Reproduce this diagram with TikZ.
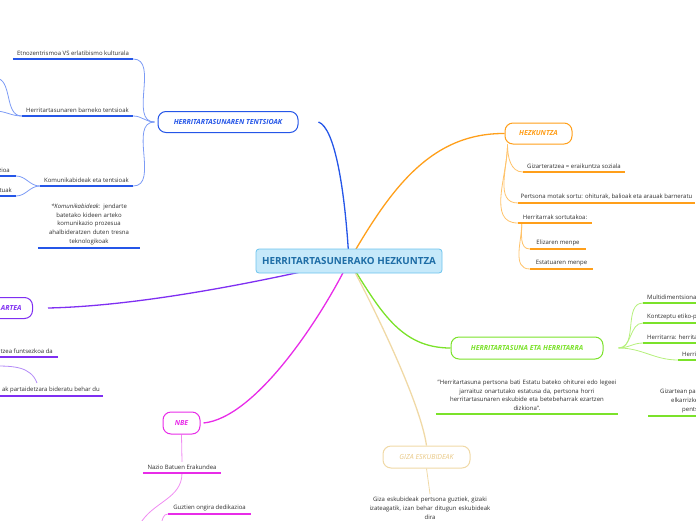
\documentclass[tikz,border=0pt]{standalone}
\usepackage{fontspec}
\setmainfont{Open Sans}
\usetikzlibrary{backgrounds,calc}
\definecolor{cBd}{HTML}{6CC4EE}
\definecolor{cFl}{HTML}{C6E9FA}
\definecolor{cTx}{HTML}{1E6DA6}
\definecolor{bl}{HTML}{2556E8}
\definecolor{blL}{HTML}{7C9BF5}
\definecolor{pu}{HTML}{7F2FF2}
\definecolor{puL}{HTML}{B38AF7}
\definecolor{ma}{HTML}{E82CE8}
\definecolor{maL}{HTML}{F08CF2}
\definecolor{orr}{HTML}{FF9F1A}
\definecolor{orL}{HTML}{FFC36B}
\definecolor{gr}{HTML}{7BE22A}
\definecolor{grL}{HTML}{B6F07C}
\definecolor{be}{HTML}{F0D9A6}
\definecolor{beT}{HTML}{E9C884}
\definecolor{tx}{HTML}{2E2E2E}
\begin{document}
\begin{tikzpicture}[x=1pt,y=-1pt,
  central/.style={draw=cBd, fill=cFl, line width=0.8pt, rounded corners=3pt,
    minimum width=186pt, minimum height=24pt, inner sep=0pt,
    font=\fontsize{9.8}{11}\selectfont\bfseries, text=cTx},
  br/.style={draw=#1, text=#1, fill=white, line width=1pt, rounded corners=8pt,
    minimum height=21pt, inner xsep=0pt, inner ysep=0pt,
    font=\fontsize{7}{8}\selectfont\bfseries\itshape},
  leaf/.style={font=\fontsize{6}{8.7}\selectfont, text=tx, inner xsep=0pt,
    inner ysep=3.1pt, anchor=south},
  ul/.style={draw=#1, line width=1.8pt},
  mainc/.style={draw=#1, line width=1.3pt},
  subc/.style={draw=#1, line width=0.8pt}
]
\useasboundingbox (0,0) rectangle (696,520);
\clip (0,0) rectangle (696,520);
\coordinate (L) at (-5,0);
\coordinate (R) at (701,0);

% central and branch nodes
\node[central] (c) at (349,261) {HERRITARTASUNERAKO HEZKUNTZA};
\node[br=bl, minimum width=140pt] (ten) at (228,122) {HERRITARTASUNAREN TENTSIOAK};
\node[br=pu, anchor=east, text width=60pt, align=right, inner xsep=11pt] (par) at (33,308) {ARTEA};
\node[br=ma, minimum width=37pt, minimum height=22pt] (nbe) at (181.5,423) {NBE};
\node[br=orr, minimum width=67pt] (hez) at (538.5,133.5) {HEZKUNTZA};
\node[br=gr, minimum width=152pt, minimum height=22pt] (her) at (527,348) {HERRITARTASUNA ETA HERRITARRA};
\node[br=be, text=beT, minimum width=87pt, minimum height=22pt,
  font=\fontsize{7}{8}\selectfont\itshape] (giza) at (426.5,457) {GIZA ESKUBIDEAK};

% blue leaves
\node[leaf, minimum width=120pt] (etno) at (73,59) {Etnozentrismoa VS erlatibismo kulturala};
\node[leaf, minimum width=111pt] (hbt) at (77.5,116) {Herritartasunaren barneko tentsioak};
\node[leaf, minimum width=93pt] (kom) at (86.5,186) {Komunikabideak eta tentsioak};
\node[leaf, text width=102pt, align=center] (komn) at (89,248)
  {\textit{*Komunikabideak:} jendarte\\batetako kideen arteko\\komunikazio prozesua\\ahalbideratzen duten tresna\\teknologikoak};
\node[leaf, anchor=south east, inner xsep=6pt] (zio) at (16,176) {zioa};
\node[leaf, anchor=south east, inner xsep=4pt] (tua) at (16,196) {tuak};

% purple leaves
\node[leaf, anchor=south east, inner xsep=5pt] (fun) at (58,357) {tzea funtsezkoa da};
\node[leaf, anchor=south east, inner xsep=3pt] (bid) at (103,396) {ak partaidetzara bideratu behar du};
\coordinate (pA) at (-5,366);
\coordinate (pB) at (37,383);

% magenta leaves
\node[leaf, minimum width=78pt] (naz) at (182,473) {Nazio Batuen Erakundea};
\node[leaf, minimum width=83pt] (guz) at (209.5,514) {Guztien ongira dedikazioa};
\coordinate (mA) at (140,524);
\coordinate (mB) at (161,524);

% orange leaves
\node[leaf, minimum width=102pt] (gzr) at (574,172) {Gizarteratzea = eraikuntza soziala};
\node[leaf, minimum width=177pt] (per) at (606.5,203) {Pertsona motak sortu: ohiturak, balioak eta arauak barneratu};
\node[leaf, minimum width=74pt] (hst) at (555,223) {Herritarrak sortutakoa:};
\node[leaf, minimum width=56pt] (eli) at (558,249) {Elizaren menpe};
\node[leaf, minimum width=63pt] (est) at (561.5,269) {Estatuaren menpe};

% green leaves
\node[leaf, text width=184pt, align=center] (quo) at (527,414)
  {"Herritartasuna pertsona bati Estatu bateko ohiturei edo legeei\\jarraituz onartutako estatusa da, pertsona horri\\herritartasunaren eskubide eta betebeharrak ezartzen\\dizkiona".};
\node[leaf, anchor=south west, inner xsep=4pt] (mul) at (643,303) {Multidimentsiona};
\node[leaf, anchor=south west, inner xsep=4pt] (kon) at (643,323) {Kontzeptu etiko-p};
\node[leaf, anchor=south west, inner xsep=4pt] (hrt) at (643,343) {Herritarra: herrita};
\node[leaf, anchor=south west, inner xsep=4pt] (hri) at (678,360) {Herri};
\node[leaf, anchor=south west, inner xsep=12pt, align=left] (gzp) at (648,416)
  {Gizartean pa\\\hspace*{11pt}elkarrizke\\\hspace*{22pt}pents};
\coordinate (gA) at ([xshift=15pt]her.east);

% beige leaf
\node[leaf, anchor=north, text width=130pt, align=center] (gzt) at (430,494)
  {Giza eskubideak pertsona guztiek, gizaki\\izateagatik, izan behar ditugun eskubideak\\dira};

% underlines
\draw[ul=bl] (etno.south west) -- (etno.south east);
\draw[ul=bl] (hbt.south west) -- (hbt.south east);
\draw[ul=bl] (kom.south west) -- (kom.south east);
\draw[ul=bl] (komn.south west) -- (komn.south east);
\draw[ul=bl] (zio.south east) -- (zio.south east -| L);
\draw[ul=bl] (tua.south east) -- (tua.south east -| L);
\draw[ul=pu] (fun.south east) -- (fun.south east -| L);
\draw[ul=pu] (bid.south east) -- (bid.south east -| L);
\draw[ul=ma] (naz.south west) -- (naz.south east);
\draw[ul=ma] (guz.south west) -- (guz.south east);
\draw[ul=orr] (gzr.south west) -- (gzr.south east);
\draw[ul=orr] (per.south west) -- (per.south east);
\draw[ul=orr] (hst.south west) -- (hst.south east);
\draw[ul=orr] (eli.south west) -- (eli.south east);
\draw[ul=orr] (est.south west) -- (est.south east);
\draw[ul=gr] ([xshift=1pt]quo.south west) -- ([xshift=-1pt]quo.south east);
\draw[ul=gr] (mul.south west) -- (mul.south west -| R);
\draw[ul=gr] (kon.south west) -- (kon.south west -| R);
\draw[ul=gr] (hrt.south west) -- (hrt.south west -| R);
\draw[ul=gr] (hri.south west) -- (hri.south west -| R);
\draw[ul=gr] (gzp.south west) -- (gzp.south west -| R);

\begin{pgfonlayer}{background}
% main connectors
\draw[mainc=bl] (c.center) .. controls (345,190) and (335,128) .. ([xshift=20pt]ten.east);
\draw[mainc=pu] (c.center) .. controls (260,282) and (140,306) .. ([xshift=15pt]par.east);
\draw[mainc=ma] (c.center) .. controls (320,320) and (255,418) .. ([xshift=3pt]nbe.east);
\draw[mainc=orr] (c.center) .. controls (390,190) and (430,133) .. (hez.west);
\draw[mainc=gr] (c.center) .. controls (380,310) and (400,348) .. (her.west);
\draw[mainc=be] (c.center) .. controls (370,300) and (420,400) .. (giza.north);
% blue
\draw[subc=blL] ([xshift=-3pt]ten.west) to[out=180,in=0] (etno.south east);
\draw[subc=blL] ([xshift=-3pt]ten.west) to[out=180,in=0] (hbt.south east);
\draw[subc=blL] ([xshift=-3pt]ten.west) to[out=180,in=0] (kom.south east);
\draw[subc=blL] (hbt.south west) to[out=180,in=0] (-5,78);
\draw[subc=blL] (hbt.south west) to[out=180,in=0] (-5,111);
\draw[subc=blL] (kom.south west) to[out=180,in=0] (zio.south east);
\draw[subc=blL] (kom.south west) to[out=180,in=0] (tua.south east);
% purple
\draw[subc=puL] (pA) to[out=0,in=110] (pB);
% magenta
\draw[subc=maL] (nbe.south) -- (naz.north);
\draw[subc=maL] (naz.south) to[out=-90,in=60] (mA);
\draw[subc=maL] (guz.south west) to[out=180,in=70] (mB);
% orange
\draw[subc=orL] ([xshift=3pt]hez.south west) to[out=-90,in=180] (gzr.south west);
\draw[subc=orL] ([xshift=3pt]hez.south west) to[out=-90,in=180] (per.south west);
\draw[subc=orL] ([xshift=3pt]hez.south west) to[out=-90,in=180] (hst.south west);
\draw[subc=orL] ([xshift=4pt]hst.south west) to[out=-90,in=180] (eli.south west);
\draw[subc=orL] ([xshift=4pt]hst.south west) to[out=-90,in=180] (est.south west);
% green
\draw[subc=grL] (gA) to[out=0,in=180] (mul.south west);
\draw[subc=grL] (gA) to[out=0,in=180] (kon.south west);
\draw[subc=grL] (gA) to[out=0,in=180] (hrt.south west);
\draw[subc=grL] (gA) to[out=0,in=180] (hri.south west);
% beige
\draw[subc=be] (giza.south) -- (gzt.north);
\end{pgfonlayer}
\end{tikzpicture}
\end{document}
